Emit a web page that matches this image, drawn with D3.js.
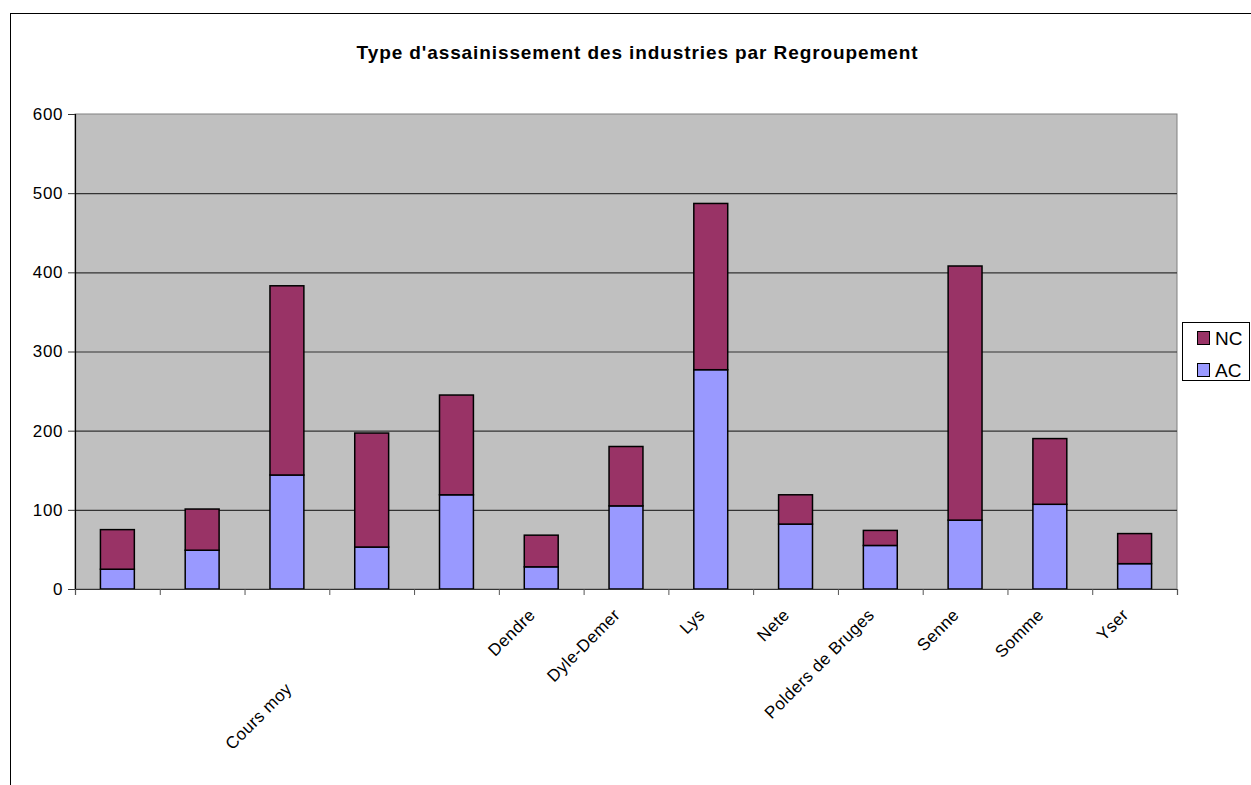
<!DOCTYPE html>
<html>
<head>
<meta charset="utf-8">
<script src="https://cdn.jsdelivr.net/npm/d3@7/dist/d3.min.js"></script>
<style>
  html, body { margin: 0; padding: 0; background: #ffffff; }
  svg { display: block; font-family: "Liberation Sans", Arial, sans-serif; }
</style>
</head>
<body>
<svg id="chart" width="1251" height="785"></svg>
<script>
// ---- data ----
const title = "Type d'assainissement des industries par Regroupement";
const categories = ["", "", "Cours moy", "", "", "Dendre", "Dyle-Demer", "Lys", "Nete",
                    "Polders de Bruges", "Senne", "Somme", "Yser"];
const seriesNames = ["NC", "AC"];
const acValues = [25, 49, 144, 53, 119, 28, 105, 277, 82, 55, 87, 107, 32];
const ncValues = [50, 52, 239, 144, 126, 40, 75, 210, 37, 19, 321, 83, 38];
const yTicks = [0, 100, 200, 300, 400, 500, 600];

// ---- layout ----
const colors = { NC: "#993366", AC: "#9999FF" };
const plot = { left: 75, right: 1177, top: 114, bottom: 589 };

const svg = d3.select("#chart");

// outer chart border
svg.append("rect")
  .attr("x", 10.5).attr("y", 13.5)
  .attr("width", 1400).attr("height", 900)
  .attr("fill", "#ffffff").attr("stroke", "#000").attr("stroke-width", 1);

// title
svg.append("text")
  .attr("x", 637.5).attr("y", 59)
  .attr("text-anchor", "middle")
  .attr("font-size", 19).attr("font-weight", "bold")
  .attr("letter-spacing", 0.9)
  .text(title);

const idx = d3.range(categories.length);
const x = d3.scaleBand().domain(idx).range([plot.left, plot.right])
  .paddingInner(0.6).paddingOuter(0.3);
const xEdge = d3.scaleLinear().domain([0, categories.length]).range([plot.left, plot.right]);
const y = d3.scaleLinear().domain([0, 600]).range([plot.bottom, plot.top]);

// plot background
svg.append("rect")
  .attr("x", plot.left).attr("y", plot.top)
  .attr("width", plot.right - plot.left).attr("height", plot.bottom - plot.top)
  .attr("fill", "#C0C0C0").attr("stroke", "#808080").attr("stroke-width", 1);

// gridlines
const grid = svg.append("g")
  .attr("transform", `translate(${plot.left},0)`)
  .call(d3.axisLeft(y).tickValues(yTicks.slice(1, -1)).tickSize(-(plot.right - plot.left)).tickFormat(""));
grid.select(".domain").remove();
grid.selectAll(".tick line").attr("stroke", "#333").attr("stroke-width", 1.2);

// stacked bars
const table = idx.map(i => ({ i, AC: acValues[i], NC: ncValues[i] }));
const stacked = d3.stack().keys(["AC", "NC"])(table);
svg.append("g").selectAll("g")
  .data(stacked).join("g")
  .attr("fill", d => colors[d.key])
  .selectAll("rect")
  .data(d => d).join("rect")
  .attr("x", d => x(d.data.i))
  .attr("y", d => y(d[1]))
  .attr("width", x.bandwidth())
  .attr("height", d => y(d[0]) - y(d[1]))
  .attr("stroke", "#000").attr("stroke-width", 1.5);

// y axis
const yAxis = svg.append("g")
  .attr("transform", `translate(${plot.left},0)`)
  .call(d3.axisLeft(y).tickValues(yTicks).tickSize(7).tickPadding(5).tickFormat(d3.format("d")));
yAxis.select(".domain").attr("stroke", "#000").attr("stroke-width", 1.2);
yAxis.selectAll(".tick line").attr("stroke", "#333");
yAxis.selectAll("text").attr("font-size", 17).attr("fill", "#000")
  .attr("letter-spacing", 0.6)
  .attr("font-family", "Liberation Sans, Arial, sans-serif");

// x axis (tick marks at category boundaries)
const xAxis = svg.append("g")
  .attr("transform", `translate(0,${plot.bottom})`)
  .call(d3.axisBottom(xEdge).tickValues(d3.range(categories.length + 1)).tickSize(6).tickFormat(""));
xAxis.select(".domain").attr("stroke", "#333").attr("stroke-width", 1.2);
xAxis.selectAll(".tick line").attr("stroke", "#555");

// category labels (rotated)
svg.append("g").selectAll("text")
  .data(idx.filter(i => categories[i] !== ""))
  .join("text")
  .attr("transform", i => {
    const cx = x(i) + x.bandwidth() / 2;
    const shifted = categories[i] === "Cours moy";
    const ax = shifted ? cx + 6 : cx - 5;
    const ay = shifted ? 690 : 616;
    return `translate(${ax},${ay}) rotate(-45)`;
  })
  .attr("text-anchor", "end")
  .attr("font-size", 17)
  .attr("letter-spacing", 0.4)
  .text(i => categories[i]);

// legend
const legend = svg.append("g");
legend.append("rect")
  .attr("x", 1182.5).attr("y", 322.5).attr("width", 67).attr("height", 58)
  .attr("fill", "#fff").attr("stroke", "#000").attr("stroke-width", 1);
seriesNames.forEach((name, k) => {
  const ly = 331 + k * 32;
  legend.append("rect")
    .attr("x", 1197.5).attr("y", ly + 0.5).attr("width", 12).attr("height", 13)
    .attr("fill", colors[name]).attr("stroke", "#000").attr("stroke-width", 1);
  legend.append("text")
    .attr("x", 1215).attr("y", ly + 14)
    .attr("font-size", 19)
    .text(name);
});
</script>
</body>
</html>
